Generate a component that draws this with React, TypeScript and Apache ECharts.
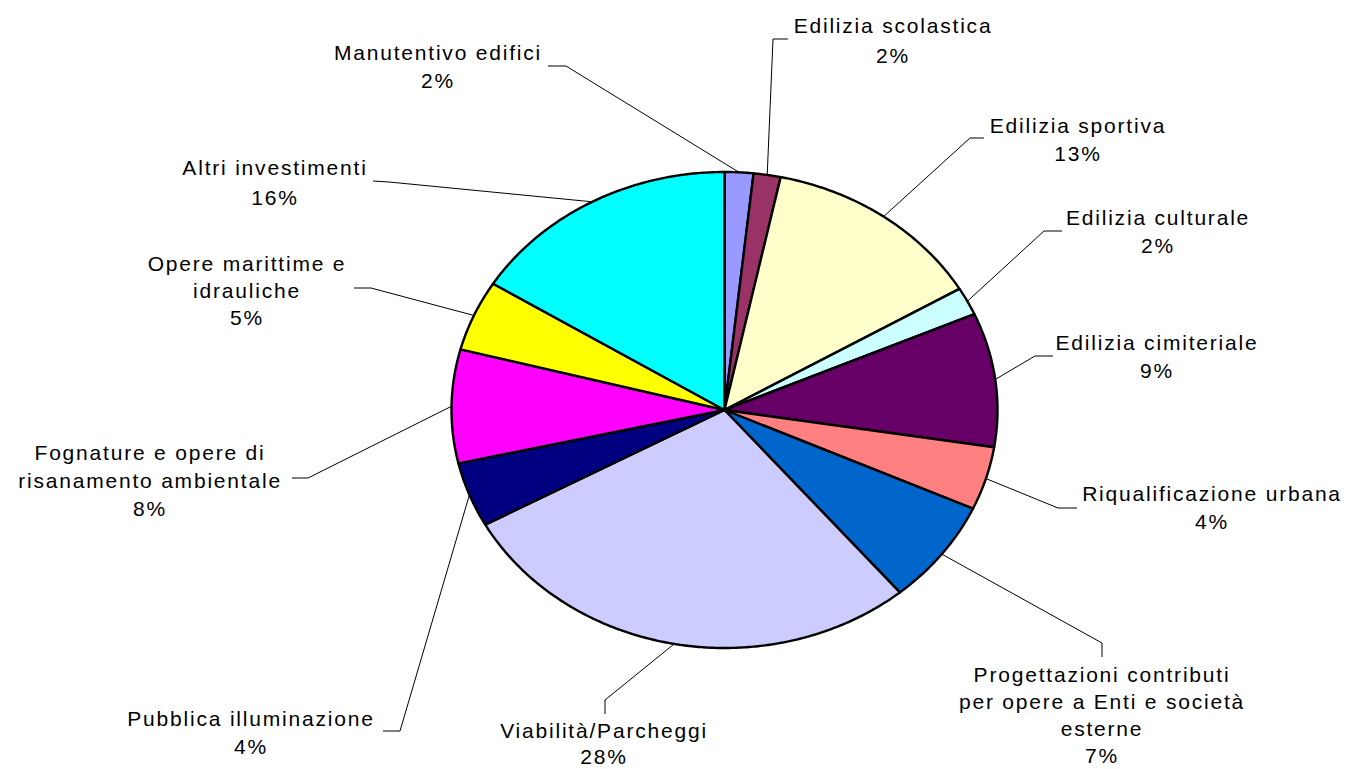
import React, { useEffect, useRef } from "react";
import * as echarts from "echarts";

// ---- data ----
const categories: string[] = [
  "Manutentivo edifici",
  "Edilizia scolastica",
  "Edilizia sportiva",
  "Edilizia culturale",
  "Edilizia cimiteriale",
  "Riqualificazione urbana",
  "Progettazioni contributi\nper opere a Enti e società\nesterne",
  "Viabilità/Parcheggi",
  "Pubblica illuminazione",
  "Fognature e opere di\nrisanamento ambientale",
  "Opere marittime e\nidrauliche",
  "Altri investimenti",
];
const values: number[] = [1.7, 1.6, 13.2, 1.9, 9.1, 4.3, 7.1, 28.1, 4.4, 7.7, 4.8, 16.1];

// ---- styles / layout ----
const colors: string[] = [
  "#9999FF", "#993366", "#FFFFCC", "#CCFFFF", "#660066", "#FF8080",
  "#0066CC", "#CCCCFF", "#000080", "#FF00FF", "#FFFF00", "#00FFFF",
];
// label centre x, first line centre y, line height, leader end (ex,ey) next to text, knee (kx,ky)
const labelLayout = [
  { x: 438, y: 52, lh: 28, ex: 548, ey: 66, kx: 566, ky: 66 },
  { x: 893, y: 25, lh: 30, ex: 788, ey: 39, kx: 773, ky: 39 },
  { x: 1078, y: 125, lh: 28, ex: 984, ey: 138, kx: 970, ky: 138 },
  { x: 1158, y: 217, lh: 28, ex: 1062, ey: 231, kx: 1044, ky: 231 },
  { x: 1157, y: 342, lh: 28, ex: 1053, ey: 356, kx: 1035, ky: 356 },
  { x: 1212, y: 493, lh: 28, ex: 1077, ey: 508, kx: 1058, ky: 508 },
  { x: 1102, y: 674, lh: 27, ex: 1102, ey: 657, kx: 1102, ky: 643 },
  { x: 604, y: 730, lh: 26, ex: 605, ey: 714, kx: 605, ky: 700 },
  { x: 251, y: 718, lh: 28, ex: 383, ey: 731, kx: 400, ky: 731 },
  { x: 150, y: 452, lh: 28, ex: 292, ey: 478, kx: 308, ky: 478 },
  { x: 247, y: 263, lh: 27, ex: 354, ey: 288, kx: 371, ky: 288 },
  { x: 275, y: 167, lh: 30, ex: 373, ey: 181, kx: 389, ky: 182 },
];
const CX = 724.5;
const CY = 410;
const RX = 273;
const RY = 238;
const FONT = "Arial, 'Liberation Sans', sans-serif";

export default function App() {
  const ref = useRef<HTMLDivElement>(null);
  useEffect(() => {
    if (!ref.current) return;
    const chart = echarts.init(ref.current, undefined, { renderer: "svg" });
    const total = values.reduce((s, v) => s + v, 0);
    const renderItem = (params: any) => {
      const i = params.dataIndex;
      let cum = 0;
      for (let j = 0; j < i; j++) cum += values[j];
      const a0 = (cum / total) * Math.PI * 2;
      const a1 = ((cum + values[i]) / total) * Math.PI * 2;
      const steps = Math.max(2, Math.ceil((a1 - a0) / (Math.PI / 360)));
      const pts: number[][] = [[CX, CY]];
      for (let k = 0; k <= steps; k++) {
        const t = a0 + ((a1 - a0) * k) / steps;
        pts.push([CX + RX * Math.sin(t), CY - RY * Math.cos(t)]);
      }
      const mid = (a0 + a1) / 2;
      const sx = CX + RX * Math.sin(mid);
      const sy = CY - RY * Math.cos(mid);
      const L = labelLayout[i];
      const pct = Math.round((values[i] / total) * 100) + "%";
      return {
        type: "group",
        children: [
          {
            type: "polygon",
            shape: { points: pts },
            style: { fill: colors[i], stroke: "#000", lineWidth: 2.4, lineJoin: "round" },
          },
          {
            type: "polyline",
            shape: { points: [[sx, sy], [L.kx, L.ky], [L.ex, L.ey]] },
            style: { stroke: "#000", lineWidth: 1, fill: "none" },
          },
          {
            type: "text",
            x: L.x,
            y: L.y - L.lh / 2,
            style: {
              text: categories[i] + "\n" + pct,
              fill: "#000",
              fontSize: 21,
              fontFamily: FONT,
              align: "center",
              verticalAlign: "top",
              lineHeight: L.lh,
            },
          },
        ],
      };
    };
    chart.setOption({
      animation: false,
      backgroundColor: "#fff",
      series: [
        {
          type: "custom",
          coordinateSystem: "none",
          silent: true,
          data: values.map((v, i) => [i, v]),
          renderItem,
        },
      ],
    });
    return () => chart.dispose();
  }, []);
  return (
    <div
      ref={ref}
      style={{
        position: "fixed",
        left: 0,
        top: 0,
        width: 1348,
        height: 769,
        letterSpacing: "1.8px",
      }}
    />
  );
}
